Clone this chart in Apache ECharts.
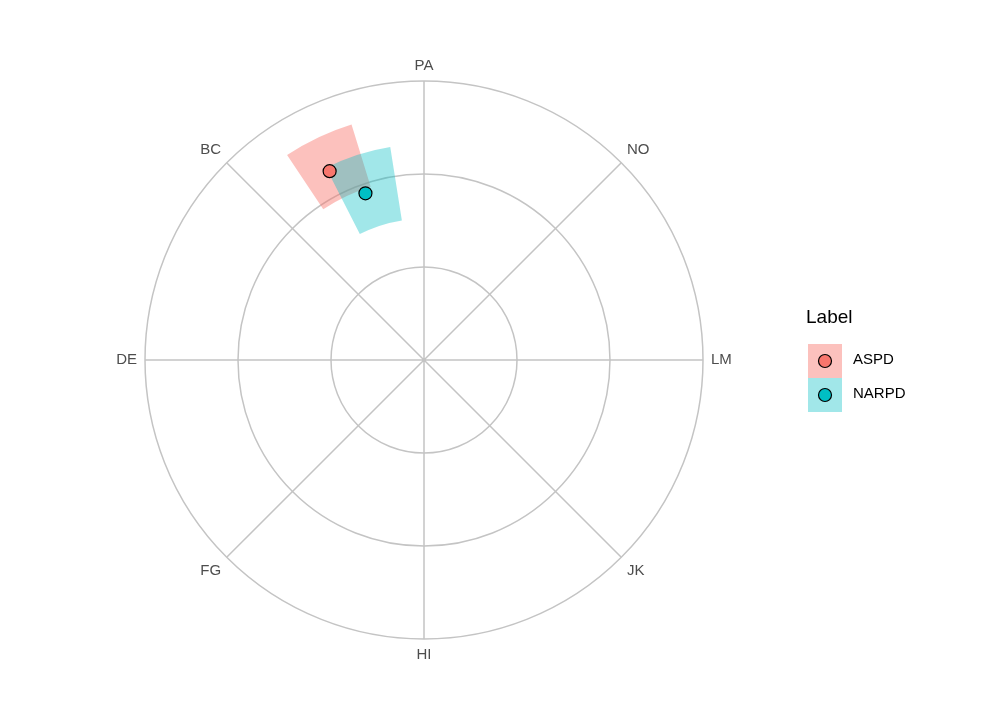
<!DOCTYPE html>
<html><head><meta charset="utf-8">
<script src="https://cdn.jsdelivr.net/npm/echarts@6/dist/echarts.min.js"></script>
<style>html,body{margin:0;background:#fff}#c{width:1008px;height:720px}</style></head>
<body><div id="c"></div>
<script>
const categories = ['PA','NO','LM','JK','HI','FG','DE','BC'];
const groups = ['ASPD','NARPD'];
const colors = ['#F8766D','#00BFC4'];
// point positions: [radius, angle position in category units]
const pointRadius = [0.227, 0.190];
const pointAngle = [7.41, 7.57];
// wedge ranges
const wedgeR0 = [0.195, 0.152];
const wedgeR1 = [0.265, 0.232];
const wedgeA0 = [7.25, 7.40];
const wedgeA1 = [7.62, 7.80];
const radiusTicks = [0, 0.1, 0.2, 0.3];
const tickLabelAngle = 1.6;

const chart = echarts.init(document.getElementById('c'));
const wedgeData = groups.map((g,i)=>[wedgeR0[i],wedgeR1[i],wedgeA0[i],wedgeA1[i],i]);
chart.setOption({
  animation:false,
  polar:{center:[424,360],radius:279},
  angleAxis:{type:'value',min:0,max:8,interval:1,startAngle:90,clockwise:true,
    axisLine:{show:false},axisTick:{show:false},
    axisLabel:{formatter:v=>v>=8?'':categories[v],color:'#4d4d4d',fontSize:15,margin:8,fontFamily:'Helvetica, Arial, Liberation Sans'},
    splitLine:{show:true,lineStyle:{color:'#c4c4c4',width:1.5}}},
  radiusAxis:{type:'value',min:0,max:0.3,interval:0.1,
    axisLine:{show:false},axisTick:{show:false},axisLabel:{show:false},
    splitLine:{show:true,lineStyle:{color:'#c4c4c4',width:1.5}}},
  series:[
    {type:'custom',coordinateSystem:'polar',data:wedgeData,
     renderItem:(params,api)=>{
       const c=api.coord([0,0]);
       const p=(r,a)=>api.coord([r,a]);
       const r0=api.value(0), r1=api.value(1), a0=api.value(2), a1=api.value(3), i=api.value(4);
       const q0=p(r1,a0), q1=p(r1,a1);
       const R0=Math.hypot(p(r0,a0)[0]-c[0],p(r0,a0)[1]-c[1]);
       const R1=Math.hypot(q0[0]-c[0],q0[1]-c[1]);
       const s=Math.atan2(q0[1]-c[1],q0[0]-c[0]);
       const e=Math.atan2(q1[1]-c[1],q1[0]-c[0]);
       return {type:'sector',shape:{cx:c[0],cy:c[1],r0:R0,r:R1,startAngle:s,endAngle:e,clockwise:true},
         style:{fill:colors[i],opacity:i===0?0.45:0.37}};
     }},
    ...groups.map((g,i)=>({type:'scatter',coordinateSystem:'polar',name:g,
      data:[[pointRadius[i],pointAngle[i]]],symbolSize:13,
      itemStyle:{color:colors[i],borderColor:'#000',borderWidth:1.2,opacity:1}})),
    {type:'scatter',coordinateSystem:'polar',symbolSize:0,silent:true,
     data:radiusTicks.map(v=>[v,v===0?3.5:tickLabelAngle]),
     label:{show:true,formatter:p=>radiusTicks[p.dataIndex].toFixed(1),color:'#4d4d4d',fontSize:15,
       position:'inside',offset:[14,-20]},
     itemStyle:{opacity:0}}
  ],
  graphic:[
    {type:'text',left:806,top:308,style:{text:'Label',fontSize:19,fill:'#000',fontFamily:'Helvetica, Arial, Liberation Sans'}},
    ...groups.flatMap((g,i)=>[
      {type:'rect',shape:{x:808,y:344+i*34,width:34,height:34},style:{fill:colors[i],opacity:i===0?0.45:0.37}},
      {type:'circle',shape:{cx:825,cy:361+i*34,r:6.5},style:{fill:colors[i],stroke:'#000',lineWidth:1.2}},
      {type:'text',left:853,top:352+i*34,style:{text:g,fontSize:15,fill:'#000',fontFamily:'Helvetica, Arial, Liberation Sans'}}
    ])
  ]
});
</script></body></html>
